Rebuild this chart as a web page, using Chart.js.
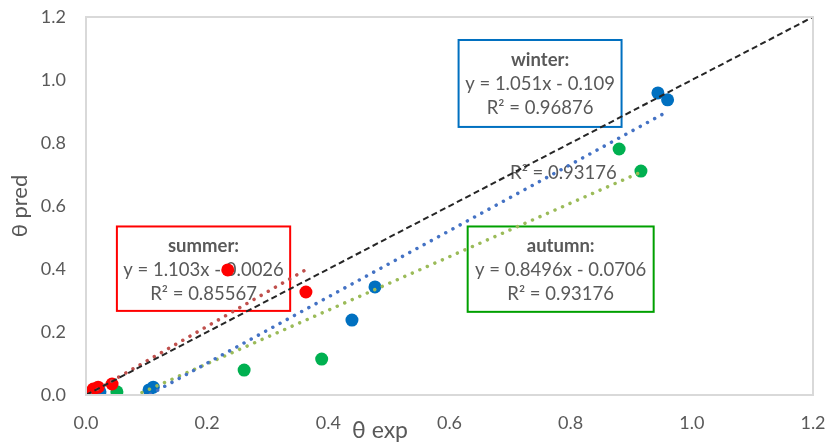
<!DOCTYPE html>
<html>
<head>
<meta charset="utf-8">
<script src="https://cdn.jsdelivr.net/npm/chart.js"></script>
<style>
  html, body { margin: 0; padding: 0; background: #fff; overflow: hidden; }
  #wrap { width: 826px; height: 443px; }
</style>
</head>
<body>
<div id="wrap"><canvas id="chart" width="826" height="443"></canvas></div>
<script>
// values
const summerX = [0.007, 0.012, 0.020, 0.043, 0.234, 0.363];
const summerY = [0.006, 0.019, 0.025, 0.035, 0.397, 0.327];
const winterX = [0.023, 0.104, 0.111, 0.439, 0.477, 0.944, 0.960];
const winterY = [0.010, 0.016, 0.025, 0.238, 0.343, 0.959, 0.937];
const autumnX = [0.018, 0.051, 0.261, 0.389, 0.880, 0.916];
const autumnY = [0.010, 0.010, 0.079, 0.114, 0.781, 0.711];

// trendline equations as printed on the chart
const summerFit = { a: 1.103, b: -0.0026, r2: '0.85567' };
const winterFit = { a: 1.051, b: -0.109, r2: '0.96876' };
const autumnFit = { a: 0.8496, b: -0.0706, r2: '0.93176' };

const axisTicks = [0, 0.2, 0.4, 0.6, 0.8, 1.0, 1.2];

const textColor = '#595959';
const font = 'Lato';

const pts = (xs, ys) => xs.map((x, i) => ({ x, y: ys[i] }));
const fitLine = (xs, f) => {
  const lo = Math.min(...xs), hi = Math.max(...xs);
  return [{ x: lo, y: f.a * lo + f.b }, { x: hi, y: f.a * hi + f.b }];
};

const dotted = (data, color) => ({
  type: 'line', data, borderColor: color, borderWidth: 3.5,
  borderDash: [0.01, 8.2], borderCapStyle: 'round',
  pointRadius: 0, fill: false, tension: 0
});

// text boxes placed in data units
const labels = [
  { x0: 0.051, y0: 0.535, x1: 0.337, y1: 0.267, color: '#FF0000', title: 'summer:', fit: summerFit },
  { x0: 0.615, y0: 1.127, x1: 0.884, y1: 0.851, color: '#0070C0', title: 'winter:', fit: winterFit },
  { x0: 0.630, y0: 0.535, x1: 0.937, y1: 0.264, color: '#00A000', title: 'autumn:', fit: autumnFit }
];

const eq = f => 'y = ' + f.a + 'x - ' + Math.abs(f.b);

const boxes = {
  id: 'boxes',
  beforeDatasetsDraw(chart) {
    const { ctx, scales: { x, y } } = chart;
    ctx.save();
    ctx.fillStyle = textColor;
    ctx.textAlign = 'center';
    ctx.textBaseline = 'middle';
    labels.forEach(l => {
      const L = x.getPixelForValue(l.x0), R = x.getPixelForValue(l.x1);
      const T = y.getPixelForValue(l.y0), B = y.getPixelForValue(l.y1);
      ctx.strokeStyle = l.color;
      ctx.lineWidth = 2;
      ctx.strokeRect(L, T, R - L, B - T);
      const cx = (L + R) / 2;
      ctx.font = 'bold 18.5px ' + font;
      ctx.fillText(l.title, cx, T + 20);
      ctx.font = '18.5px ' + font;
      ctx.fillText(eq(l.fit), cx, T + 44);
      ctx.fillText('R² = ' + l.fit.r2, cx, T + 68);
    });
    // stray autumn R² label without a box
    ctx.font = '18.5px ' + font;
    ctx.fillText('R² = ' + autumnFit.r2, x.getPixelForValue(0.788), y.getPixelForValue(0.705));
    ctx.restore();
  },
  afterDraw(chart) {
    const { ctx, chartArea: a } = chart;
    ctx.save();
    ctx.strokeStyle = '#D9D9D9';
    ctx.lineWidth = 2;
    ctx.strokeRect(a.left, a.top, a.right - a.left, a.bottom - a.top);
    ctx.fillStyle = textColor;
    ctx.font = '23px ' + font;
    ctx.textAlign = 'center';
    ctx.textBaseline = 'middle';
    ctx.fillText('θ exp', 380, 431);
    ctx.restore();
  }
};

new Chart(document.getElementById('chart'), {
  type: 'scatter',
  data: {
    datasets: [
      {
        type: 'line', data: [{ x: 0, y: 0 }, { x: 1.2, y: 1.2 }],
        borderColor: '#262626', borderWidth: 2, borderDash: [6, 3.5],
        pointRadius: 0, fill: false
      },
      dotted(fitLine(summerX, summerFit), '#C0504D'),
      dotted(fitLine(winterX, winterFit), '#4472C4'),
      dotted(fitLine(autumnX, autumnFit), '#9BBB59'),
      { data: pts(summerX, summerY), backgroundColor: '#FF0000', borderWidth: 0, pointRadius: 6.5 },
      { data: pts(winterX, winterY), backgroundColor: '#0070C0', borderWidth: 0, pointRadius: 6.5 },
      { data: pts(autumnX, autumnY), backgroundColor: '#00B050', borderWidth: 0, pointRadius: 6.5 }
    ]
  },
  options: {
    responsive: false,
    animation: false,
    layout: { padding: { top: 17, right: 13, left: 0, bottom: 0 } },
    plugins: { legend: { display: false }, tooltip: { enabled: false } },
    scales: {
      x: {
        type: 'linear', min: 0, max: 1.2,
        afterBuildTicks: s => { s.ticks = axisTicks.map(v => ({ value: v })); },
        afterFit: s => { s.height = 48; s.paddingLeft = 0; s.paddingRight = 0; },
        grid: { color: 'rgba(0,0,0,0)', drawTicks: false },
        border: { color: '#D9D9D9', width: 2 },
        ticks: { padding: 17, color: textColor, font: { family: font, size: 18 },
                 callback: v => v.toFixed(1) }
      },
      y: {
        type: 'linear', min: 0, max: 1.2,
        afterBuildTicks: s => { s.ticks = axisTicks.map(v => ({ value: v })); },
        afterFit: s => { s.width = 86; s.paddingTop = 0; s.paddingBottom = 0; },
        grid: { color: 'rgba(0,0,0,0)', drawTicks: false },
        border: { color: '#D9D9D9', width: 2 },
        title: { display: true, text: 'θ pred', color: textColor,
                 font: { family: font, size: 22 }, padding: { top: 7, bottom: 0 } },
        ticks: { padding: 20, color: textColor, font: { family: font, size: 18 },
                 callback: v => v.toFixed(1) }
      }
    }
  },
  plugins: [boxes]
});
</script>
</body>
</html>
